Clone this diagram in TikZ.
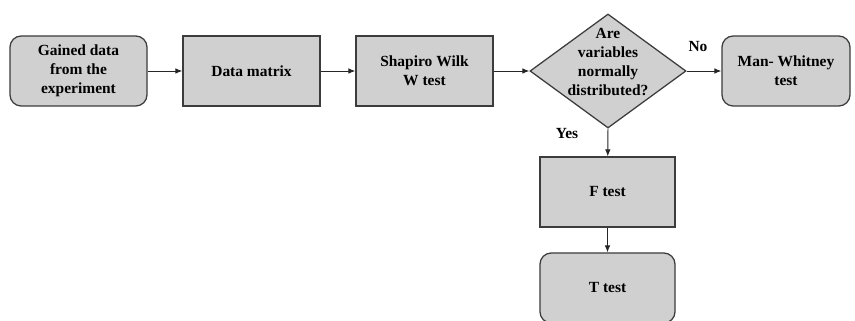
\documentclass[tikz,border=0pt]{standalone}
\usepackage{fontspec}
\setmainfont{Liberation Serif}
\usetikzlibrary{arrows.meta, positioning, shapes, calc}
\usepackage{xcolor}
\definecolor{boxfill}{HTML}{D0D0D0}
\definecolor{boxline}{HTML}{3C3C3C}

\begin{document}
\begin{tikzpicture}[x=0.025cm, y=-0.025cm,
    font=\fontsize{11}{13.5}\selectfont\bfseries,
    stepbox/.style={draw=boxline, fill=boxfill, line width=0.9pt,
        minimum width=3.425cm, minimum height=1.75cm, align=center},
    endbox/.style={stepbox, rounded corners=8pt},
    flow/.style={-{Latex[length=5pt, width=4pt]}, line width=0.7pt, draw=black!85}]
        \useasboundingbox (0,0) rectangle (855,321);

        % Boxes of the main row
        \node[endbox] (gained) at (78.5,71) {Gained data\\from the\\experiment};
        \node[stepbox] (matrix) at (251.5,71) {Data matrix};
        \node[stepbox] (shapiro) at (424.5,71) {Shapiro Wilk\\W test};
        \node[draw=boxline, fill=boxfill, line width=0.9pt, diamond, inner sep=0pt,
            minimum width=3.9cm, minimum height=2.85cm] (decision) at (608,71) {};
        \node[align=center] (question) at (608,62) {Are\\variables\\normally\\distributed?};
        \node[endbox, minimum width=3.2cm] (mann) at (786,71) {Man- Whitney\\test};

        % Boxes below the decision
        \node[stepbox, minimum width=3.375cm] (ftest) at (607.5,192) {F test};
        \node[endbox, minimum width=3.375cm] (ttest) at (607.5,288) {T test};

        % Arrows
        \draw[flow] (gained) -- (matrix);
        \draw[flow] (matrix) -- (shapiro);
        \draw[flow] (shapiro) -- (decision);
        \draw[flow] (decision.east) -- (mann);
        \draw[flow] (decision.south) -- (ftest);
        \draw[flow] (ftest) -- (ttest);

        % Labels
        \node (no) at (698,47) {No};
        \node (yes) at (567,134) {Yes};
    \end{tikzpicture}
\end{document}
